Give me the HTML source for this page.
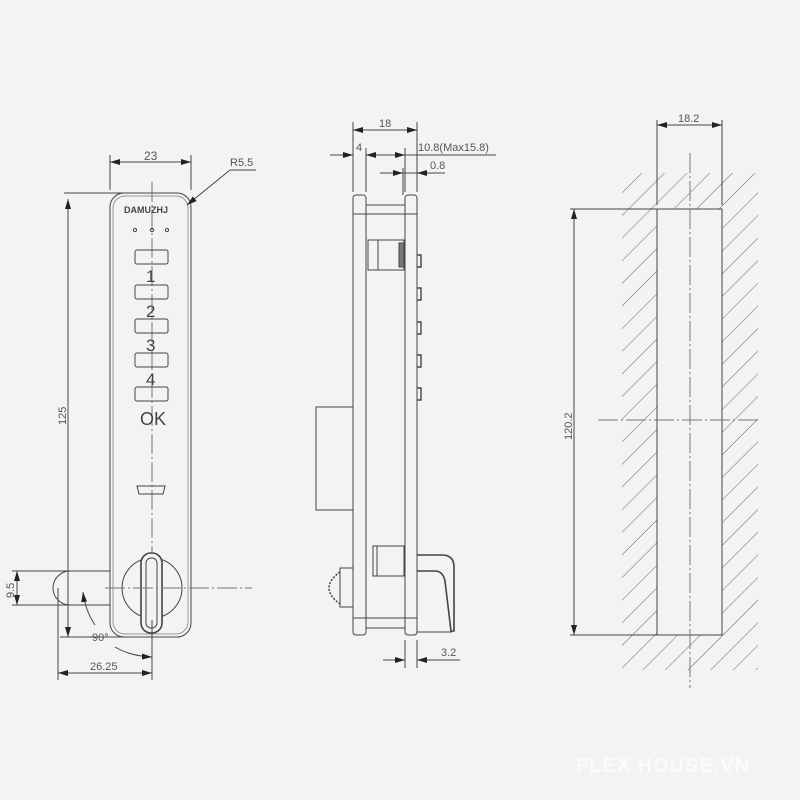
<!DOCTYPE html>
<html><head><style>body{margin:0;background:#f3f3f3}svg{display:block}text{font-family:"Liberation Sans",sans-serif}</style></head><body>
<svg width="800" height="800" viewBox="0 0 800 800" xmlns="http://www.w3.org/2000/svg">
<defs>
<marker id="a" viewBox="0 0 10 6" refX="10" refY="3" markerWidth="10" markerHeight="6" orient="auto-start-reverse" markerUnits="userSpaceOnUse"><path d="M0,0L10,3L0,6z" fill="#222"/></marker>
<pattern id="h" width="16" height="16" patternUnits="userSpaceOnUse" patternTransform="rotate(45)"><line x1="0" y1="0" x2="0" y2="16" stroke="#666" stroke-width="1"/></pattern>
</defs>
<rect width="800" height="800" fill="#f3f3f3"/>
<g fill="none" stroke="#444" stroke-width="1">
<rect x="110" y="193" width="81" height="444" rx="14"/>
<rect x="113" y="196" width="75" height="438" rx="12" stroke="#999"/>
<line x1="152" y1="182" x2="152" y2="660" stroke="#777" stroke-dasharray="20,3,2,3"/>
<circle cx="135" cy="230" r="1.6"/><circle cx="152" cy="230" r="1.6"/><circle cx="167" cy="230" r="1.6"/>
<rect x="135" y="250" width="33" height="14" rx="2"/>
<rect x="135" y="285" width="33" height="14" rx="2"/>
<rect x="135" y="319" width="33" height="14" rx="2"/>
<rect x="135" y="353" width="33" height="14" rx="2"/>
<rect x="135" y="387" width="33" height="14" rx="2"/>
<path d="M137,486 h28 l-2,8 h-24 z"/>
<circle cx="152" cy="588" r="30" fill="#f3f3f3"/>
<rect x="141" y="553" width="21" height="80" rx="10" fill="#f3f3f3" stroke-width="1.6"/>
<rect x="146" y="558" width="11" height="70" rx="5"/>
<line x1="105" y1="588" x2="252" y2="588" stroke="#777" stroke-dasharray="20,3,2,3"/>
<path d="M70,571 a17,17 0 0 0 0,34"/>
<line x1="110" y1="190" x2="110" y2="155"/><line x1="191" y1="190" x2="191" y2="155"/>
<line x1="110" y1="162" x2="191" y2="162" marker-start="url(#a)" marker-end="url(#a)"/>
<line x1="64" y1="193" x2="150" y2="193"/>
<line x1="68" y1="199" x2="68" y2="637" marker-start="url(#a)" marker-end="url(#a)"/>
<line x1="60" y1="637" x2="130" y2="637"/>
<line x1="12" y1="571" x2="110" y2="571"/><line x1="12" y1="605" x2="110" y2="605"/>
<line x1="17" y1="571" x2="17" y2="605" marker-start="url(#a)" marker-end="url(#a)"/>
<line x1="58" y1="588" x2="58" y2="680"/><line x1="152" y1="620" x2="152" y2="680"/>
<line x1="58" y1="673" x2="152" y2="673" marker-start="url(#a)" marker-end="url(#a)"/>
<path d="M95,625 Q85,610 83,592" marker-end="url(#a)"/>
<path d="M115,647 Q130,656 152,657" marker-end="url(#a)"/>
<line x1="187" y1="205" x2="230" y2="170" marker-start="url(#a)"/><line x1="230" y1="170" x2="256" y2="170"/>
<rect x="353" y="195" width="13" height="440" rx="3"/>
<rect x="405" y="195" width="12" height="440" rx="3"/>
<line x1="366" y1="205" x2="405" y2="205"/><line x1="353" y1="214" x2="417" y2="214"/>
<line x1="353" y1="618" x2="417" y2="618"/><line x1="366" y1="628" x2="405" y2="628"/>
<rect x="368" y="240" width="36" height="30"/><line x1="378" y1="240" x2="378" y2="270"/>
<rect x="399" y="243" width="5" height="24" fill="#777"/>
<rect x="316" y="407" width="37" height="103"/>
<rect x="373" y="546" width="31" height="30"/><line x1="377" y1="546" x2="377" y2="576"/>
<path d="M340,568 h13 v39 h-13 z"/>
<path d="M340,572 q-22,16 0,32" stroke-width="1.5" stroke-dasharray="2,1.5"/>
<g stroke-width="1.4"><path d="M417,255 h4 v12 h-4"/><path d="M417,288 h4 v12 h-4"/><path d="M417,322 h4 v12 h-4"/><path d="M417,355 h4 v12 h-4"/><path d="M417,388 h4 v12 h-4"/></g>
<path d="M417,555 h25 q12,0 12,12 v64 h-3 l-6,-50 q-2,-10 -10,-10 h-18" stroke-width="1.6"/>
<line x1="417" y1="632" x2="452" y2="632"/>
<line x1="353" y1="192" x2="353" y2="122"/><line x1="417" y1="192" x2="417" y2="122"/>
<line x1="353" y1="130" x2="417" y2="130" marker-start="url(#a)" marker-end="url(#a)"/>
<line x1="366" y1="192" x2="366" y2="148"/><line x1="405" y1="192" x2="405" y2="148"/>
<line x1="330" y1="155" x2="353" y2="155" marker-end="url(#a)"/>
<line x1="366" y1="155" x2="405" y2="155" marker-start="url(#a)" marker-end="url(#a)"/>
<line x1="405" y1="155" x2="496" y2="155"/>
<line x1="380" y1="173" x2="445" y2="173"/>
<line x1="391" y1="173" x2="403" y2="173" marker-end="url(#a)"/><line x1="430" y1="173" x2="417" y2="173" marker-end="url(#a)"/>
<line x1="403" y1="168" x2="403" y2="195"/>
<line x1="405" y1="640" x2="405" y2="668"/><line x1="417" y1="640" x2="417" y2="668"/>
<line x1="383" y1="660" x2="405" y2="660" marker-end="url(#a)"/><line x1="460" y1="660" x2="417" y2="660" marker-end="url(#a)"/>
<rect x="622" y="173" width="136" height="37" fill="url(#h)" stroke="none"/>
<rect x="622" y="210" width="35" height="425" fill="url(#h)" stroke="none"/>
<rect x="722" y="210" width="36" height="425" fill="url(#h)" stroke="none"/>
<rect x="622" y="635" width="136" height="35" fill="url(#h)" stroke="none"/>
<rect x="657" y="209" width="65" height="426" fill="#f3f3f3"/>
<line x1="690" y1="153" x2="690" y2="688" stroke="#777" stroke-dasharray="20,3,2,3"/>
<line x1="598" y1="420" x2="758" y2="420" stroke="#777" stroke-dasharray="20,3,2,3"/>
<line x1="657" y1="205" x2="657" y2="120"/><line x1="722" y1="205" x2="722" y2="120"/>
<line x1="657" y1="125" x2="722" y2="125" marker-start="url(#a)" marker-end="url(#a)"/>
<line x1="570" y1="209" x2="657" y2="209"/><line x1="570" y1="635" x2="657" y2="635"/>
<line x1="574" y1="209" x2="574" y2="635" marker-start="url(#a)" marker-end="url(#a)"/>
</g>
<g fill="#555" font-size="11">
<text x="124" y="213" font-size="9" font-weight="bold" fill="#444">DAMUZHJ</text>
<text x="144" y="160" font-size="12">23</text>
<text x="230" y="166">R5.5</text>
<text x="146" y="282" font-size="17" fill="#444">1</text>
<text x="146" y="317" font-size="17" fill="#444">2</text>
<text x="146" y="351" font-size="17" fill="#444">3</text>
<text x="146" y="385" font-size="17" fill="#444">4</text>
<text x="140" y="425" font-size="18" fill="#444">OK</text>
<text transform="translate(66,425) rotate(-90)">125</text>
<text transform="translate(14,598) rotate(-90)">9.5</text>
<text x="92" y="641">90°</text>
<text x="90" y="670">26.25</text>
<text x="379" y="127">18</text>
<text x="356" y="151">4</text>
<text x="418" y="151">10.8(Max15.8)</text>
<text x="430" y="169">0.8</text>
<text x="441" y="656">3.2</text>
<text x="678" y="122">18.2</text>
<text transform="translate(572,440) rotate(-90)">120.2</text>
<text x="576" y="772" font-size="20" font-weight="bold" fill="#fbfbfb" letter-spacing="1">FLEX HOUSE.VN</text>
</g>
</svg>
</body></html>
